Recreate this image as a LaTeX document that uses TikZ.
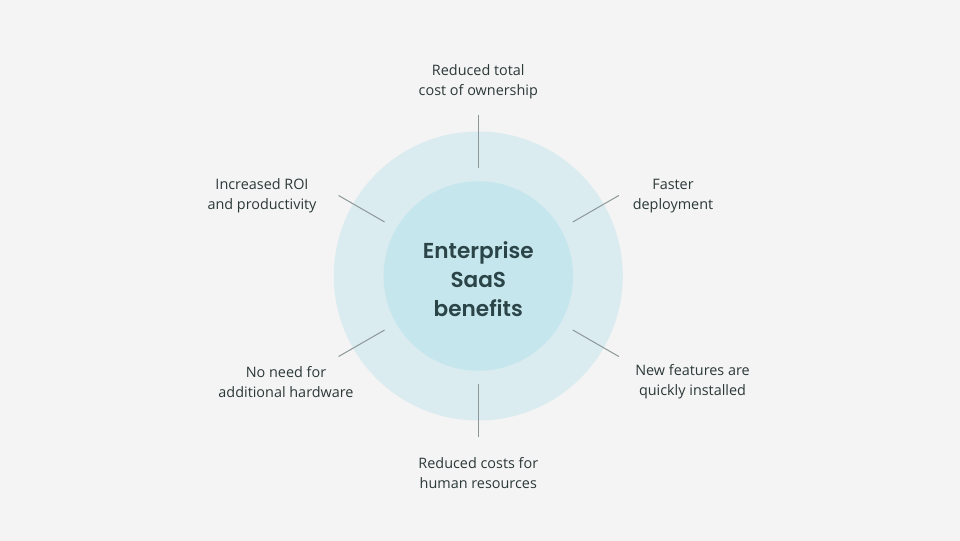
\documentclass[tikz,border=0pt]{standalone}
\usepackage{fontspec}
\setmainfont{Open Sans}
\newfontfamily\titlefont{Poppins}[UprightFont=* SemiBold]
\definecolor{bg}{HTML}{F4F4F4}
\definecolor{outerc}{HTML}{DBECF1}
\definecolor{innerc}{HTML}{C6E6EE}
\definecolor{txt}{HTML}{2C3838}
\definecolor{ttl}{HTML}{2B4447}
\definecolor{ln}{HTML}{8C9797}
\tikzset{
  lbl/.style={align=center, text=txt, font=\fontsize{10.8}{15}\selectfont, inner sep=0pt},
  spoke/.style={draw=ln, line width=0.75pt},
}
\begin{document}
\begin{tikzpicture}[x=0.75pt,y=-0.75pt]
\useasboundingbox (0,0) rectangle (960,541);
\fill[bg] (0,0) rectangle (960,541);
\fill[outerc] (478.3,276) circle[radius=144.5];
\fill[innerc] (478.3,276) circle[radius=94.8];
\node[align=center, text=ttl, font=\titlefont\fontsize{16.2}{21.8}\selectfont, inner sep=0pt] (title) at (478.3,279) {Enterprise\\SaaS\\benefits};
% spoke end points
\coordinate (t1) at (478.3,168); \coordinate (t2) at (478.3,115);
\coordinate (b1) at (478.3,384); \coordinate (b2) at (478.3,437);
\coordinate (ul1) at (384.6,222); \coordinate (ul2) at (338.6,195.5);
\coordinate (ur1) at (572.8,222); \coordinate (ur2) at (618.8,195.5);
\coordinate (ll1) at (384.6,330); \coordinate (ll2) at (338.6,356.5);
\coordinate (lr1) at (572.8,330); \coordinate (lr2) at (618.8,356.5);
\draw[spoke] (t1) -- (t2);
\draw[spoke] (b1) -- (b2);
\draw[spoke] (ul1) -- (ul2);
\draw[spoke] (ur1) -- (ur2);
\draw[spoke] (ll1) -- (ll2);
\draw[spoke] (lr1) -- (lr2);
% labels
\node[lbl] (top) at (478.3,82) {Reduced total\\cost of ownership};
\node[lbl] (ul) at (262,196) {Increased ROI\\and productivity};
\node[lbl] (ur) at (673,196) {Faster\\deployment};
\node[lbl] (ll) at (286,382) {No need for\\additional hardware};
\node[lbl] (lr) at (692.5,382) {New features are\\quickly installed};
\node[lbl] (bot) at (478.3,473) {Reduced costs for\\human resources};
\end{tikzpicture}
\end{document}
